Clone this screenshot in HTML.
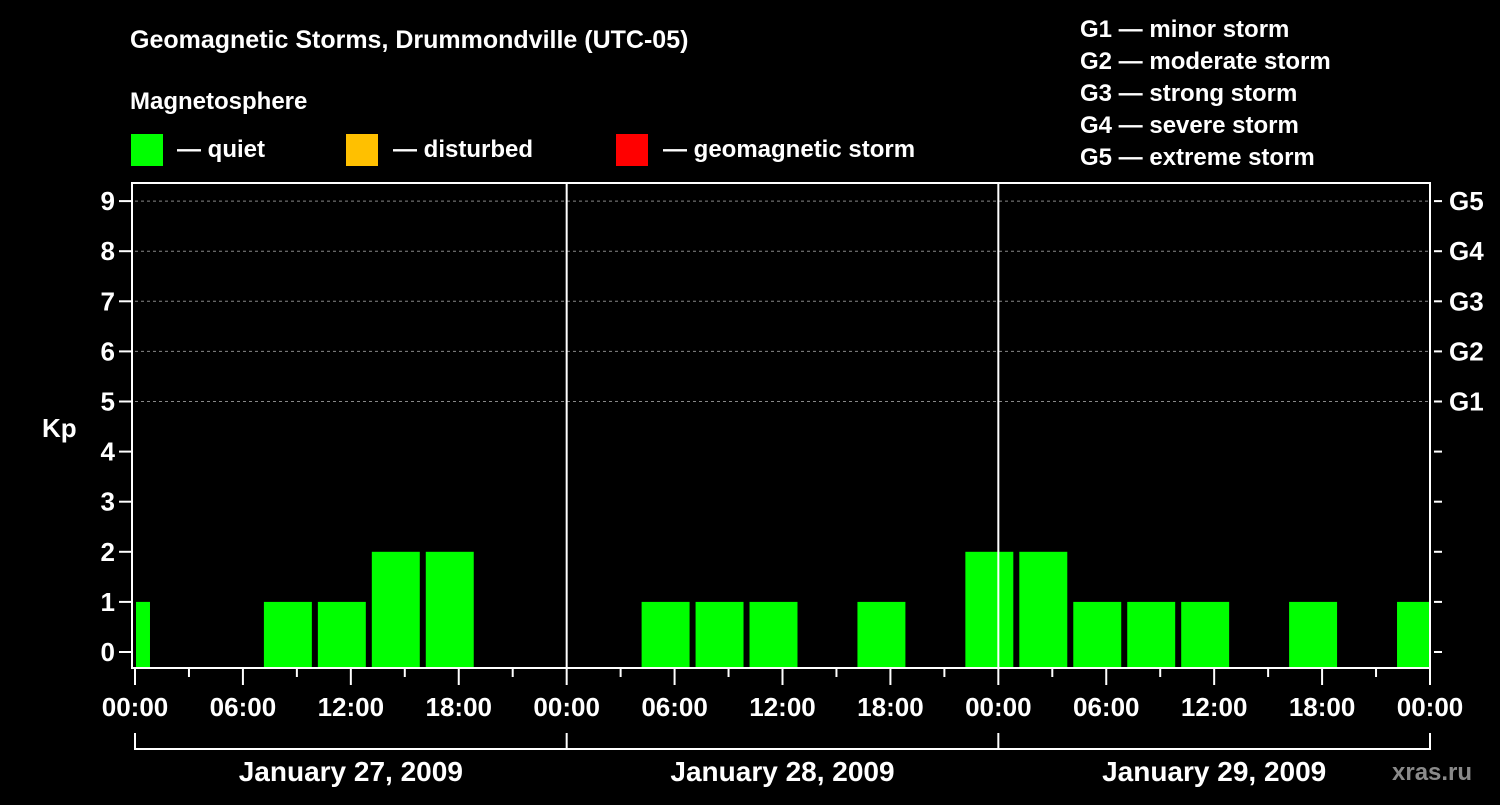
<!DOCTYPE html>
<html><head><meta charset="utf-8"><style>
body{margin:0;background:#000;width:1500px;height:800px;overflow:hidden}
svg text{font-family:"Liberation Sans",Arial,sans-serif;font-weight:bold;fill:#fff}
</style></head><body>
<svg id="chart" width="1500" height="800" xmlns="http://www.w3.org/2000/svg">
<rect width="1500" height="800" fill="#000"/>
<text x="130" y="48" font-size="25">Geomagnetic Storms, Drummondville (UTC-05)</text>
<text x="130" y="109" font-size="24">Magnetosphere</text>
<rect x="131" y="134" width="32" height="32" fill="#00ff00"/>
<text x="177" y="157" font-size="24">— quiet</text>
<rect x="346" y="134" width="32" height="32" fill="#ffc000"/>
<text x="393" y="157" font-size="24">— disturbed</text>
<rect x="616" y="134" width="32" height="32" fill="#ff0000"/>
<text x="663" y="157" font-size="24">— geomagnetic storm</text>
<g font-size="24">
<text x="1080" y="37">G1 — minor storm</text>
<text x="1080" y="69">G2 — moderate storm</text>
<text x="1080" y="101">G3 — strong storm</text>
<text x="1080" y="133">G4 — severe storm</text>
<text x="1080" y="165">G5 — extreme storm</text>
</g>
<text x="42" y="437" font-size="26">Kp</text>
<text x="1392" y="780" font-size="24" fill="#888" style="fill:#8a8a8a">xras.ru</text>
<g id="grid"></g><g id="bars"></g><g id="axes"></g>
</svg>
<script>
const kpValues=[1,0,0,1,1,2,2,0,0,0,1,1,1,0,1,0,2,2,1,1,1,0,1,0,1];
const yTicks=[0,1,2,3,4,5,6,7,8,9];
const gLabels=["","","","","","G1","G2","G3","G4","G5"];
const xTickLabels=["00:00","06:00","12:00","18:00","00:00","06:00","12:00","18:00","00:00","06:00","12:00","18:00","00:00"];
const dateLabels=["January 27, 2009","January 28, 2009","January 29, 2009"];
const startHour=-2, stepHours=3, totalHours=72;
const X0=135,X1=1430,TOP=183,BOT=668;
const xs=h=>X0+(X1-X0)*h/totalHours;
const ys=v=>652-50.1*v;
const NS="http://www.w3.org/2000/svg";
function mk(tag,attrs,parent,txt){const e=document.createElementNS(NS,tag);for(const k in attrs)e.setAttribute(k,attrs[k]);if(txt!==undefined)e.textContent=txt;document.getElementById(parent).appendChild(e);return e;}
yTicks.forEach(v=>{
  if(v>=5){const l=mk('line',{x1:X0,x2:X1,y1:ys(v),y2:ys(v),stroke:'#888','stroke-dasharray':'3,3','stroke-width':1},'grid');
  
  }
  const t=mk('line',{x1:X0-16,x2:X0-4,y1:ys(v),y2:ys(v),stroke:'#fff','stroke-width':2},'axes');
  
  
  const r=mk('line',{x1:X1+4,x2:X1+12,y1:ys(v),y2:ys(v),stroke:'#fff','stroke-width':2},'axes');
  
  
  const lb=mk('text',{x:X0-20,y:ys(v)+9,'text-anchor':'end','font-size':26},'axes',String(v));
  
  
  if(gLabels[v]){const g=mk('text',{x:1449,y:ys(v)+9,'font-size':26},'axes',gLabels[v]);
  
  }
});
kpValues.forEach((v,i)=>{
  if(v<=0)return;
  let a=startHour+i*stepHours,b=a+stepHours;
  let xa=Math.max(xs(a)+3,X0+1),xb=Math.min(xs(b)-3,X1-1);
  const color=v<4?'#00ff00':(v<5?'#ffc000':'#ff0000');
  const r=mk('rect',{x:xa,y:ys(v),width:xb-xa,height:BOT-ys(v),fill:color},'bars');
  
  
});
const f=mk('rect',{x:X0-3,y:TOP,width:X1-X0+3,height:BOT-TOP,fill:'none',stroke:'#fff','stroke-width':2},'axes');


[1,2].forEach(d=>{const l=mk('line',{x1:xs(d*24),x2:xs(d*24),y1:TOP,y2:BOT,stroke:'#fff','stroke-width':2},'axes');

});
for(let h=0;h<=totalHours;h+=3){const major=h%6===0;
  const t=mk('line',{x1:xs(h),x2:xs(h),y1:BOT,y2:BOT+(major?17:9),stroke:'#fff','stroke-width':2},'axes');
  
  }
xTickLabels.forEach((s,i)=>{const t=mk('text',{x:xs(i*6),y:716,'text-anchor':'middle','font-size':26},'axes',s);
  
  });
mk('line',{x1:X0,x2:X1,y1:749,y2:749,stroke:'#fff','stroke-width':2},'axes');
[0,1,2,3].forEach(d=>{const l=mk('line',{x1:xs(d*24),x2:xs(d*24),y1:733,y2:750,stroke:'#fff','stroke-width':2},'axes');

});
dateLabels.forEach((s,i)=>{const t=mk('text',{x:xs(i*24+12),y:781,'text-anchor':'middle','font-size':28},'axes',s);
  
  });
</script>
</body></html>
